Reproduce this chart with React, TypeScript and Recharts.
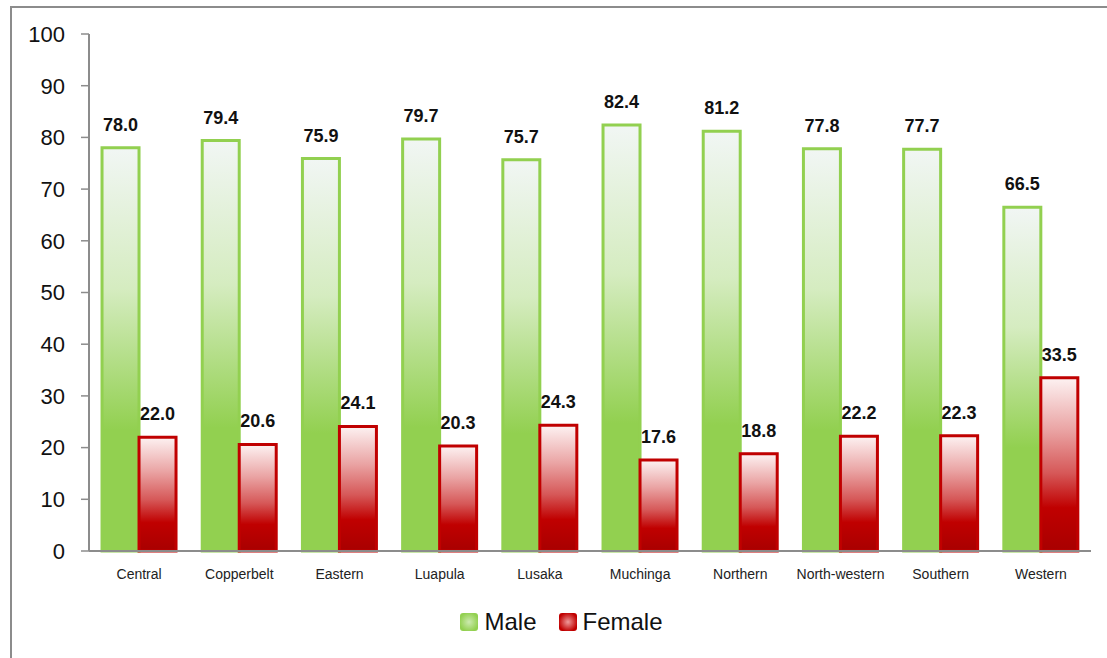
import { BarChart, Bar, XAxis, YAxis, Legend, LabelList } from "recharts";

const regions = [
  "Central",
  "Copperbelt",
  "Eastern",
  "Luapula",
  "Lusaka",
  "Muchinga",
  "Northern",
  "North-western",
  "Southern",
  "Western",
];
const male = [78.0, 79.4, 75.9, 79.7, 75.7, 82.4, 81.2, 77.8, 77.7, 66.5];
const female = [22.0, 20.6, 24.1, 20.3, 24.3, 17.6, 18.8, 22.2, 22.3, 33.5];
const yTicks = [0, 10, 20, 30, 40, 50, 60, 70, 80, 90, 100];
const boundaryTicks = [0, 1, 2, 3, 4, 5, 6, 7, 8, 9, 10];

const data = regions.map((region, i) => ({
  region,
  male: male[i],
  female: female[i],
}));

const axisGray = "#8c8c8c";
const sans = "'Liberation Sans', Arial, sans-serif";
const narrow = "'Liberation Sans Narrow', 'Arial Narrow', 'Liberation Sans', sans-serif";

function LegendBox() {
  const item = (fill: string, label: string, gap: number) => (
    <span style={{ display: "inline-flex", alignItems: "center", marginRight: gap }}>
      <span
        style={{
          width: 18,
          height: 18,
          borderRadius: 3,
          background: fill,
          marginRight: 6,
          display: "inline-block",
        }}
      />
      {label}
    </span>
  );
  return (
    <div
      style={{
        height: 67,
        display: "flex",
        justifyContent: "center",
        alignItems: "center",
        paddingBottom: 6,
        paddingLeft: 32,
        boxSizing: "border-box",
        fontFamily: sans,
        fontSize: 24,
        color: "#111",
      }}
    >
      {item("radial-gradient(circle, #cdeab0 0%, #92d050 75%)", "Male", 22)}
      {item("radial-gradient(circle, #ef9a9a 0%, #c00000 75%)", "Female", 0)}
    </div>
  );
}

export default function App() {
  return (
    <div
      style={{
        position: "fixed",
        left: 0,
        top: 0,
        width: 1107,
        height: 658,
        overflow: "hidden",
        background: "#fff",
      }}
    >
      <div
        style={{
          position: "absolute",
          left: 10,
          top: 6,
          width: 1130,
          height: 700,
          border: `2px solid ${axisGray}`,
        }}
      />
      <div style={{ position: "absolute", left: 0, top: 0 }}>
        <BarChart
          width={1107}
          height={658}
          data={data}
          margin={{ top: 34, right: 16, left: 0, bottom: 0 }}
          barCategoryGap="13%"
          barGap={0}
        >
          <defs>
            <linearGradient id="maleGrad" x1="0" y1="0" x2="0" y2="1">
              <stop offset="0" stopColor="#f1f6f4" />
              <stop offset="0.35" stopColor="#d5ecc0" />
              <stop offset="0.7" stopColor="#92d050" />
              <stop offset="1" stopColor="#92d050" />
            </linearGradient>
            <linearGradient id="femaleGrad" x1="0" y1="0" x2="0" y2="1">
              <stop offset="0" stopColor="#fdf2f2" />
              <stop offset="0.3" stopColor="#eaa4a4" />
              <stop offset="0.55" stopColor="#d65858" />
              <stop offset="0.75" stopColor="#c00000" />
              <stop offset="1" stopColor="#a80000" />
            </linearGradient>
          </defs>
          <XAxis
            xAxisId="edges"
            type="number"
            domain={[0, 10]}
            ticks={boundaryTicks}
            height={0}
            tick={false}
            axisLine={false}
            tickLine={{ stroke: axisGray, strokeWidth: 1.5 }}
            tickSize={5}
          />
          <XAxis
            dataKey="region"
            height={40}
            tickLine={false}
            axisLine={{ stroke: axisGray, strokeWidth: 2 }}
            tickMargin={12}
            tick={{ fontSize: 14, fill: "#222", fontFamily: narrow }}
            interval={0}
          />
          <YAxis
            width={89}
            domain={[0, 100]}
            ticks={yTicks}
            tickSize={8}
            tickMargin={16}
            axisLine={{ stroke: axisGray, strokeWidth: 2 }}
            tickLine={{ stroke: axisGray, strokeWidth: 1.5 }}
            tick={{ fontSize: 22, fill: "#111", fontFamily: sans }}
          />
          <Legend verticalAlign="bottom" content={<LegendBox />} />
          <Bar
            dataKey="male"
            name="Male"
            fill="url(#maleGrad)"
            stroke="#92d050"
            strokeWidth={3}
            isAnimationActive={false}
          >
            <LabelList
              dataKey="male"
              position="top"
              offset={17}
              formatter={(v: any) => Number(v).toFixed(1)}
              style={{ fontSize: 18, fontWeight: 700, fill: "#111", fontFamily: sans }}
            />
          </Bar>
          <Bar
            dataKey="female"
            name="Female"
            fill="url(#femaleGrad)"
            stroke="#c00000"
            strokeWidth={3}
            isAnimationActive={false}
          >
            <LabelList
              dataKey="female"
              position="top"
              offset={17}
              formatter={(v: any) => Number(v).toFixed(1)}
              style={{ fontSize: 18, fontWeight: 700, fill: "#111", fontFamily: sans }}
            />
          </Bar>
        </BarChart>
      </div>
    </div>
  );
}
